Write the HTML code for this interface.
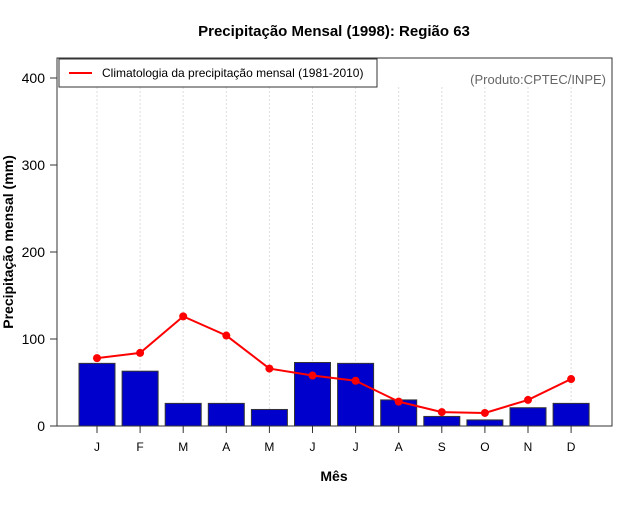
<!DOCTYPE html>
<html><head><meta charset="utf-8"><style>
body{margin:0;background:#fff;font-family:"Liberation Sans",sans-serif}
</style></head><body>
<svg width="640" height="500" xmlns="http://www.w3.org/2000/svg" font-family="Liberation Sans, sans-serif">
<text x="334" y="36" text-anchor="middle" font-size="15" font-weight="bold">Precipitação Mensal (1998): Região 63</text>
<g id="grid"></g>
<g id="bars"></g>
<g id="line"></g>
<rect x="57" y="58" width="555" height="368" fill="none" stroke="#333" stroke-width="1"/>
<g id="yaxis"></g>
<g id="xaxis"></g>
<text x="13" y="242" transform="rotate(-90 13 242)" text-anchor="middle" font-size="14" font-weight="bold">Precipitação mensal (mm)</text>
<text x="334" y="481" text-anchor="middle" font-size="14" font-weight="bold">Mês</text>
<g>
<rect x="59" y="59" width="318" height="28" fill="#fff" stroke="#333"/>
<line x1="69" y1="73" x2="92" y2="73" stroke="red" stroke-width="2"/>
<text x="102" y="77" font-size="12">Climatologia da precipitação mensal (1981-2010)</text>
</g>
<text x="606" y="84" text-anchor="end" font-size="13" fill="#666">(Produto:CPTEC/INPE)</text>
</svg>
<script>
const months=["J","F","M","A","M","J","J","A","S","O","N","D"];
const observed=[72,63,26,26,19,73,72,30,11,7,21,26];
const climatology=[78,84,126,104,66,58,52,28,16,15,30,54];
const yTicks=[0,100,200,300,400];
const NS="http://www.w3.org/2000/svg";
const x=i=>97+i*43.1;
const y=v=>426-v*0.87;
function mk(t,a,p){const e=document.createElementNS(NS,t);for(const k in a)e.setAttribute(k,a[k]);document.getElementById(p).appendChild(e);return e;}
months.forEach((m,i)=>{
  const g=mk("line",{x1:x(i),x2:x(i),y1:87,y2:426,stroke:"#ddd","stroke-dasharray":"2,2"},"grid");
  
  
  const b=mk("rect",{x:x(i)-18,y:y(observed[i]),width:36,height:observed[i]*0.87,fill:"#0000cc",stroke:"#333"},"bars");
  
  
  const t=mk("line",{x1:x(i),x2:x(i),y1:426,y2:433,stroke:"#333"},"xaxis");
  
  
  const l=mk("text",{x:x(i),y:451,"text-anchor":"middle","font-size":"12"},"xaxis");
  l.textContent=m;
  
  
});
const pl=mk("polyline",{points:climatology.map((v,i)=>x(i)+","+y(v)).join(" "),fill:"none",stroke:"red","stroke-width":2},"line");


climatology.forEach((v,i)=>{
  const c=mk("circle",{cx:x(i),cy:y(v),r:4,fill:"red"},"line");
  
  
});
yTicks.forEach(v=>{
  const t=mk("line",{x1:50,x2:57,y1:y(v),y2:y(v),stroke:"#333"},"yaxis");
  
  
  const l=mk("text",{x:45,y:y(v)+5,"text-anchor":"end","font-size":"14"},"yaxis");
  l.textContent=v;
  
  
});
</script>
</body></html>
